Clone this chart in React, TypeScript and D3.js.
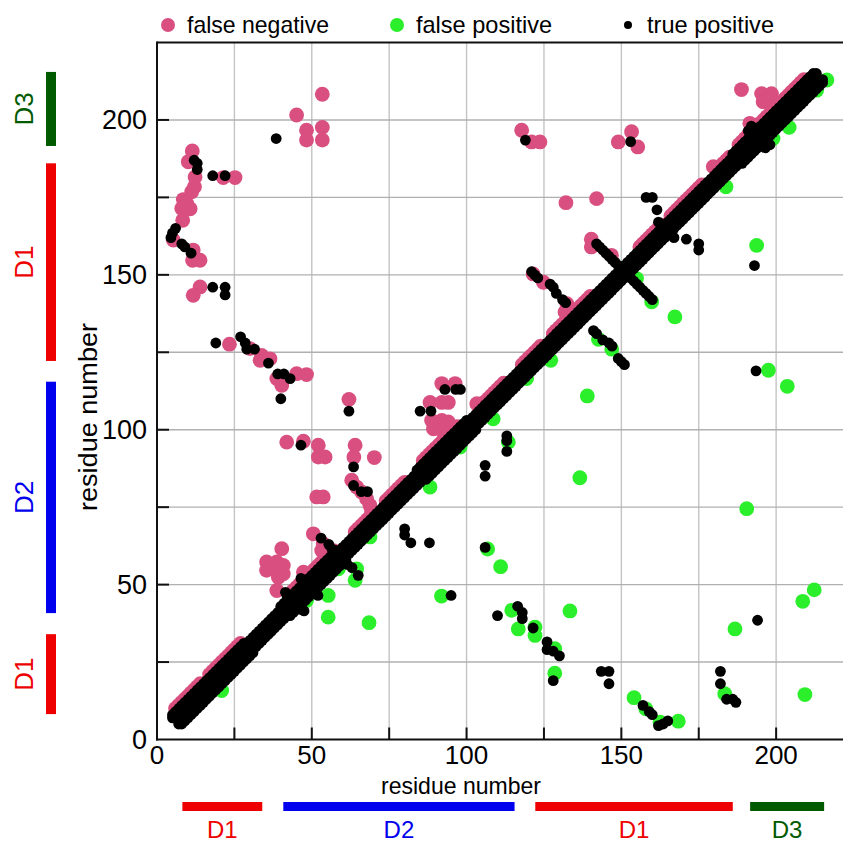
import React from "react";
import * as d3 from "d3";

// ---------- data ----------
const legendLabels = ["false negative", "false positive", "true positive"];
const tickValues = [0, 50, 100, 150, 200];
const gridValues = [25, 50, 75, 100, 125, 150, 175, 200];

// structural domains (residue ranges)
const domainNames = ["D1", "D2", "D1", "D3"];
const domainStarts = [8.2, 40.8, 122.2, 191.6];
const domainEnds = [34, 115.5, 186, 215.5];
const domainColors = ["#ee0000", "#0000ee", "#ee0000", "#005a00"];

// near-diagonal runs: [first residue i, last residue i, offset j-i]
const diagTPRuns = [
  [5, 213, 2],
  [5, 28, 3],
  [40, 58, 3],
  [84, 100, 3],
  [186, 212, 3],
];
const diagFNRuns = [
  [6, 14, 4], [17, 27, 4], [44, 57, 4], [64, 70, 3], [74, 80, 3], [86, 97, 4],
  [105, 112, 3], [118, 124, 3], [128, 140, 3], [156, 163, 3], [166, 176, 3],
  [181, 185, 3], [188, 198, 4], [201, 209, 4],
];

// off-diagonal true positive contacts (i < j), drawn in both triangles
const tpPairs = [
  [38.5, 194], [22, 182], [18, 182], [13, 184], [13, 186], [12, 187],
  [4.5, 162], [5, 163.5], [6, 165], [8, 160], [9, 159], [11, 157],
  [18, 146], [22, 146], [22, 143.5],
  [19, 128], [27, 130], [28.5, 128], [29, 126], [31.5, 126], [36, 121.5],
  [39, 118], [41, 118], [43, 116.5], [40, 110],
  [93, 113], [96.5, 113], [98, 113], [85, 106], [88.5, 106],
  [62, 106], [46.5, 95], [63.5, 88],
  [63.5, 82], [66, 80], [68, 80],
  [53, 65], [55.5, 63], [56.5, 61.5], [42, 46.5], [46.5, 52], [41.5, 47.5],
  [119, 193.5], [153, 193], [191, 196.5], [192, 198],
  [158, 175], [160, 175], [161.5, 171], [162, 167],
  [121, 151], [122, 150], [123, 149], [127, 147], [128, 146], [129, 144], [131, 142], [132, 141],
  [142, 160], [143, 159], [144, 158], [145, 157], [146, 156], [147, 155], [148, 154], [149, 153], [150, 152],
];

// false negatives (upper triangle)
const fnPoints = [
  [53.4, 208.3], [45.1, 201.6], [48.3, 196.7], [53.4, 197.6], [48.3, 193.5], [53.4, 193.5],
  [11.4, 190], [10.1, 186.5], [12.3, 181.6], [12.1, 178.4], [11.2, 176.8], [8.5, 174.3],
  [9.6, 173], [10.7, 171.3], [8, 171.4], [8.3, 167.6], [5.3, 161.2], [11.7, 158],
  [11.5, 154.7], [13.9, 154.7],
  [21.4, 181.4], [25.2, 181.4],
  [13.9, 146.1], [11.7, 143.4],
  [23.4, 127.6], [30, 126.2], [33.8, 124], [36.5, 122.9], [33.3, 122.4], [38.7, 116.5],
  [40.3, 114.3], [45.1, 118.1], [48.3, 117.8],
  [62, 109.8], [41.9, 96], [47.3, 96.3], [52.1, 95], [52.1, 91.2], [54.3, 91.2],
  [64, 95], [63.6, 91.2], [70.2, 91], [51.6, 78.3], [53.7, 78.3],
  [62.9, 83.7], [64.5, 81.5], [66.1, 79.9], [67.7, 77.7], [68.8, 75.6], [69.3, 73.4],
  [50.5, 66.4], [53.7, 63.2], [53.2, 61],
  [35.4, 57.3], [38.7, 57.3], [40.8, 56.2], [35.4, 54.6], [38.1, 54.6], [40.8, 53.5],
  [39.2, 52.4], [40.3, 61.6], [38.7, 48.1], [47.3, 54],
  [92, 114.9], [96.3, 114.9], [88.2, 108.8], [92, 108.8], [94.1, 108.8], [88.7, 103],
  [92, 103], [94.1, 102.5], [89.3, 100.3], [92.5, 99.2], [93.6, 98.1], [103.3, 108.4],
  [117.8, 196.7], [121, 192.9], [123.7, 192.9], [149, 192.9], [153.3, 196.2], [155.3, 191.3],
  [132.1, 173.3], [142, 174.6],
  [140.3, 161.5], [140.3, 159], [146.8, 156.3],
  [121.5, 150.3], [124.8, 147.6], [132.4, 140.7], [131.8, 138],
  [188.8, 209.8], [195.3, 208.5], [198.5, 208.5], [195.8, 205.9], [199, 205.9],
  [196.9, 206.4], [191.5, 198.9], [191, 195], [179.7, 184.9],
];

// false positives (lower triangle)
const fpPoints = [
  [139, 110.9], [203.6, 114], [113.5, 96], [136.6, 84.5], [190.5, 74.5], [106.8, 61.5], [111, 55.8],
  [114.6, 41.7], [116.7, 35.7], [122.1, 33.6], [122.1, 36.3], [128.5, 29.3], [128.5, 21.4], [133.4, 41.5],
  [154.1, 13.5], [157.9, 9.9], [162.5, 5.6], [168.4, 5.9], [183.4, 14.8], [186.7, 35.7],
  [208.6, 44.6], [212.3, 48.3], [209.3, 14.5],
  [159.8, 141.3], [167.3, 136.4], [154.9, 148.8], [142.6, 129.2], [146.9, 126], [193.7, 159.5], [197.5, 119.2],
  [183.8, 178.4], [204.2, 197.6], [216.4, 212.9], [213.1, 209.6], [199, 194],
  [58.6, 55.1], [64.5, 55.1], [64, 51.4], [55.3, 46.5], [55.3, 39.5], [68.5, 37.7], [91.9, 46.3],
  [48.3, 44.9], [20.9, 15.8], [68.8, 65.4], [88.2, 81.5], [97.9, 94.4], [127.2, 122.4],
  [119.4, 116.5], [108.6, 103.5],
];

// ---------- styling ----------
const PINK = "#d94f7f";
const GREEN = "#2cef2c";
const FONT = "'Liberation Sans', Arial, Helvetica, sans-serif";

function expandRuns(runs: number[][]) {
  const out: number[][] = [];
  for (const [a, b, off] of runs) {
    for (let i = a; i <= b; i++) out.push([i, i + off]);
  }
  return out;
}

export default function App() {
  const W = 843;
  const H = 844;
  const left = 157, right = 843, top = 42.5, bottom = 739.5;
  const x = d3.scaleLinear().domain([0, 221.6]).range([left, right]);
  const y = d3.scaleLinear().domain([0, 225]).range([bottom, top]);

  const tpAll = [...tpPairs, ...expandRuns(diagTPRuns)];
  const tpDraw: number[][] = [];
  tpAll.forEach(([i, j]) => {
    tpDraw.push([i, j]);
    tpDraw.push([j, i]);
  });
  const fnDraw = [...expandRuns(diagFNRuns), ...fnPoints];
  const fpDraw = fpPoints;

  const legendX = [168, 397, 628];
  const legendW = [142, 136, 127];
  const legendColors = [PINK, GREEN, "#000"];
  const legendR = [7, 7, 4];

  return (
    <svg
      width={W}
      height={H}
      style={{ position: "absolute", left: 0, top: 0, display: "block", background: "#fff" }}
      fontFamily={FONT}
    >
      <defs>
        <clipPath id="plotclip">
          <rect x={left} y={top} width={right - left} height={bottom - top} />
        </clipPath>
      </defs>

      {/* grid */}
      {gridValues.map((v) => (
        <line key={"gx" + v} x1={x(v)} x2={x(v)} y1={top} y2={bottom} stroke="#c4c4c4" strokeWidth={1.4} />
      ))}
      {gridValues.map((v) => (
        <line key={"gy" + v} x1={left} x2={right} y1={y(v)} y2={y(v)} stroke="#b0b0b0" strokeWidth={1.4} />
      ))}

      {/* points */}
      <g clipPath="url(#plotclip)">
        {fnDraw.map(([i, j], k) => (
          <circle key={"fn" + k} cx={x(i)} cy={y(j)} r={7.4} fill={PINK} />
        ))}
        {fpDraw.map(([i, j], k) => (
          <circle key={"fp" + k} cx={x(i)} cy={y(j)} r={7.4} fill={GREEN} />
        ))}
        {tpDraw.map(([i, j], k) => (
          <circle key={"tp" + k} cx={x(i)} cy={y(j)} r={5.4} fill="#000" />
        ))}
      </g>

      {/* frame */}
      <line x1={left} x2={right} y1={top} y2={top} stroke="#111" strokeWidth={2} />
      <line x1={left} x2={left} y1={top - 1} y2={bottom + 1} stroke="#111" strokeWidth={2} />
      <line x1={left - 1} x2={right} y1={bottom} y2={bottom} stroke="#111" strokeWidth={2} />

      {/* ticks */}
      {gridValues.map((v) => (
        <line key={"tx" + v} x1={x(v)} x2={x(v)} y1={bottom} y2={bottom - 12} stroke="#111" strokeWidth={2} />
      ))}
      {gridValues.map((v) => (
        <line key={"ty" + v} x1={left} x2={left + 12} y1={y(v)} y2={y(v)} stroke="#111" strokeWidth={2} />
      ))}

      {/* tick labels */}
      {tickValues.map((v) => (
        <text key={"lx" + v} x={x(v)} y={764} fontSize={26} textAnchor="middle" fill="#000">
          {v}
        </text>
      ))}
      {tickValues.map((v) => (
        <text key={"ly" + v} x={147} y={y(v) + 9.5} fontSize={27} textAnchor="end" fill="#000">
          {v}
        </text>
      ))}

      {/* axis titles */}
      <text
        x={381}
        y={794}
        fontSize={24}
        textLength={160}
        lengthAdjust="spacingAndGlyphs"
        fill="#000"
      >
        residue number
      </text>
      <text
        transform="translate(97,511) rotate(-90)"
        fontSize={26}
        textLength={188}
        lengthAdjust="spacingAndGlyphs"
        fill="#000"
      >
        residue number
      </text>

      {/* legend */}
      {legendLabels.map((lab, k) => (
        <g key={"lg" + k}>
          <circle cx={legendX[k]} cy={25} r={legendR[k]} fill={legendColors[k]} />
          <text
            x={legendX[k] + 19}
            y={33}
            fontSize={24}
            textLength={legendW[k]}
            lengthAdjust="spacingAndGlyphs"
            fill="#000"
          >
            {lab}
          </text>
        </g>
      ))}

      {/* domain bars bottom */}
      {domainNames.map((nm, k) => (
        <g key={"db" + k}>
          <rect
            x={x(domainStarts[k])}
            y={802}
            width={x(domainEnds[k]) - x(domainStarts[k])}
            height={9}
            fill={domainColors[k]}
          />
          <text
            x={(x(domainStarts[k]) + x(domainEnds[k])) / 2}
            y={838}
            fontSize={24}
            textAnchor="middle"
            fill={domainColors[k]}
          >
            {nm}
          </text>
        </g>
      ))}

      {/* domain bars left */}
      {domainNames.map((nm, k) => (
        <g key={"dl" + k}>
          <rect
            x={46}
            y={y(domainEnds[k])}
            width={10}
            height={y(domainStarts[k]) - y(domainEnds[k])}
            fill={domainColors[k]}
          />
          <text
            transform={`translate(33,${(y(domainStarts[k]) + y(domainEnds[k])) / 2}) rotate(-90)`}
            fontSize={26}
            textAnchor="middle"
            fill={domainColors[k]}
          >
            {nm}
          </text>
        </g>
      ))}
    </svg>
  );
}
